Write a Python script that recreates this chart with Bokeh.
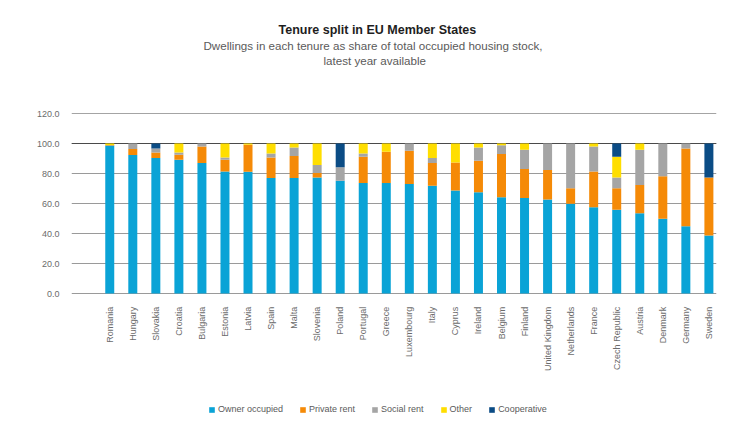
from math import pi
from bokeh.plotting import figure
from bokeh.models import (Range1d, FixedTicker, NumeralTickFormatter, Span, Title,
                          Legend, LegendItem, ColumnDataSource)
from bokeh.core.properties import value
from bokeh.embed import file_html
from bokeh.resources import INLINE

countries = ["Romania", "Hungary", "Slovakia", "Croatia", "Bulgaria", "Estonia", "Latvia",
             "Spain", "Malta", "Slovenia", "Poland", "Portugal", "Greece", "Luxembourg",
             "Italy", "Cyprus", "Ireland", "Belgium", "Finland", "United Kingdom",
             "Netherlands", "France", "Czech Republic", "Austria", "Denmark", "Germany", "Sweden"]
owner = [98.6, 92.3, 90.3, 89.2, 87.0, 81.4, 81.2, 77.0, 77.0, 77.3, 75.2, 73.7, 73.7, 73.0,
         71.9, 68.6, 67.5, 64.2, 63.7, 62.6, 59.8, 57.5, 55.8, 53.5, 49.8, 44.9, 38.7]
private = [0.4, 4.0, 3.7, 3.3, 11.0, 7.8, 17.9, 13.7, 14.6, 3.0, 0.0, 17.5, 20.8, 22.2,
           15.1, 18.8, 21.0, 28.8, 19.3, 19.7, 10.3, 23.9, 14.3, 18.9, 28.3, 51.8, 38.7]
social = [0.0, 3.7, 2.7, 1.5, 2.0, 1.5, 0.0, 2.7, 5.7, 5.4, 8.9, 2.2, 0.0, 4.8,
          3.3, 0.0, 8.8, 5.9, 12.8, 17.7, 29.9, 16.6, 7.3, 23.4, 21.9, 3.3, 0.0]
other = [1.0, 0.0, 0.0, 6.0, 0.0, 9.3, 0.9, 6.6, 2.7, 14.3, 0.0, 6.6, 5.5, 0.0,
         9.7, 12.6, 2.7, 1.1, 4.2, 0.0, 0.0, 2.0, 13.8, 4.2, 0.0, 0.0, 0.0]
coop = [0.0, 0.0, 3.3, 0.0, 0.0, 0.0, 0.0, 0.0, 0.0, 0.0, 15.9, 0.0, 0.0, 0.0,
        0.0, 0.0, 0.0, 0.0, 0.0, 0.0, 0.0, 0.0, 8.8, 0.0, 0.0, 0.0, 22.6]
series_names = ["Owner occupied", "Private rent", "Social rent", "Other", "Cooperative"]
colors = ["#0aa3d6", "#f58a07", "#a5a5a5", "#ffde00", "#0b4c85"]
y_ticks = [0, 20, 40, 60, 80, 100, 120]
title = "Tenure split in EU Member States"
subtitle = ["Dwellings in each tenure as share of total occupied housing stock,",
            "latest year available"]

FONT = "Liberation Sans"
xs = list(range(len(countries)))
keys = ["owner", "private", "social", "other", "coop"]
src = ColumnDataSource(dict(x=xs, name=countries, owner=owner, private=private,
                            social=social, other=other, coop=coop))

# frame extends below zero so the category labels and legend sit inside it
p = figure(frame_width=645, frame_height=312, output_backend="svg", toolbar_location=None,
           x_range=Range1d(-1.66, len(countries) - 1 + 0.33),
           y_range=Range1d(120 - 312 / 1.5, 120),
           min_border_left=71, min_border_right=20, min_border_top=113, min_border_bottom=0)
p.outline_line_color = None
p.title.visible = False

renderers = p.vbar_stack(keys, x="x", width=0.39, source=src, color=colors, line_color=None)

# category labels (rotated, reading upwards, ending just below the zero line)
p.text(x="x", y=-8.9, text="name", source=src, angle=pi / 2, text_align="right",
       text_baseline="middle", text_font=value(FONT), text_font_size="9px",
       text_color="#6b6b6b")

p.xaxis.visible = False
p.xgrid.grid_line_color = None

p.yaxis.ticker = FixedTicker(ticks=y_ticks)
p.yaxis.formatter = NumeralTickFormatter(format="0.0")
p.yaxis.axis_line_color = None
p.yaxis.major_tick_line_color = None
p.yaxis.minor_tick_line_color = None
p.yaxis.major_label_text_font = FONT
p.yaxis.major_label_text_font_size = "9px"
p.yaxis.major_label_text_color = "#6b6b6b"
p.yaxis.major_label_standoff = 6

p.ygrid.ticker = FixedTicker(ticks=y_ticks)
p.ygrid.grid_line_color = "#9a9a9a"
for v in (100, 120):
    p.add_layout(Span(location=v, dimension="width", line_color="#4a4a4a", line_width=1,
                      level="underlay"))

# titles: closest to the frame first (a blank spacer keeps the gap above the frame)
p.add_layout(Title(text=" ", text_font_size="1px", standoff=44), "above")
p.add_layout(Title(text=subtitle[1], align="left", offset=252, standoff=0,
                   text_font=FONT, text_font_size="11.6px", text_font_style="normal",
                   text_color="#5a5a5a"), "above")
p.add_layout(Title(text=subtitle[0], align="left", offset=132, standoff=0,
                   text_font=FONT, text_font_size="11.6px", text_font_style="normal",
                   text_color="#5a5a5a"), "above")
p.add_layout(Title(text=title, align="left", offset=207, standoff=0,
                   text_font=FONT, text_font_size="12.5px", text_font_style="bold",
                   text_color="#1e1e1e"), "above")

legend = Legend(items=[LegendItem(label=n, renderers=[r]) for n, r in zip(series_names, renderers)],
                orientation="horizontal", location=(137, 11),
                label_text_font=FONT, label_text_font_size="9px", label_text_color="#5a5a5a",
                glyph_width=7, glyph_height=7, label_height=9, label_standoff=3,
                spacing=16, padding=2, margin=0, border_line_color=None,
                background_fill_alpha=0)
p.add_layout(legend, "center")

open("out.html", "w").write(file_html(p, INLINE))
